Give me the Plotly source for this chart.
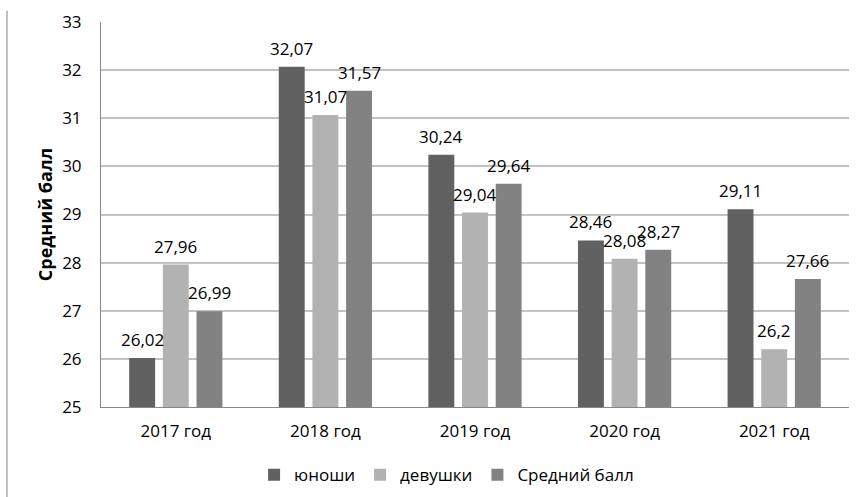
import plotly.graph_objects as go

categories = ["2017 год", "2018 год", "2019 год", "2020 год", "2021 год"]
boys = [26.02, 32.07, 30.24, 28.46, 29.11]
girls = [27.96, 31.07, 29.04, 28.08, 26.2]
average = [26.99, 31.57, 29.64, 28.27, 27.66]
series_names = ["юноши", "девушки", "Средний балл"]
y_ticks = [25, 26, 27, 28, 29, 30, 31, 32, 33]

colors = ["#616161", "#b2b2b2", "#828282"]
FONT = "Open Sans"

W, H = 861, 497
ML, MR, MT, MB = 101, 12, 22, 90
BARGAP, GROUPGAP = 0.325, 0.23


def fmt(v):
    s = ("%.2f" % v).rstrip("0").rstrip(".")
    return s.replace(".", ",")


fig = go.Figure()
all_series = [boys, girls, average]
for name, vals, col in zip(series_names, all_series, colors):
    fig.add_trace(go.Bar(
        x=categories, y=vals, name=name,
        marker=dict(color=col, line=dict(width=0)),
        hovertemplate="%{x}: %{y}<extra>" + name + "</extra>",
    ))

# data labels above each bar (offset by group slot, derived from layout)
cat_px = (W - ML - MR) / len(categories)
slot_px = cat_px * (1 - BARGAP) / len(all_series)
annotations = []
for i, vals in enumerate(all_series):
    shift = (i - (len(all_series) - 1) / 2) * slot_px
    for c, v in zip(categories, vals):
        annotations.append(dict(
            x=c, y=v, xref="x", yref="y", text=fmt(v), showarrow=False,
            xanchor="center", yanchor="bottom", xshift=shift, yshift=5,
            font=dict(family=FONT, size=17, color="#000000"),
        ))

fig.update_layout(
    width=W, height=H,
    margin=dict(l=ML, r=MR, t=MT, b=MB, autoexpand=False),
    paper_bgcolor="white", plot_bgcolor="white",
    barmode="group", bargap=BARGAP, bargroupgap=GROUPGAP,
    font=dict(family=FONT, size=17, color="#000000"),
    showlegend=True,
    legend=dict(orientation="h", x=0.462, xanchor="center", y=-0.177, yanchor="middle",
                font=dict(family=FONT, size=17), itemwidth=30, tracegroupgap=0,
                bgcolor="rgba(0,0,0,0)"),
    xaxis=dict(showline=True, linecolor="#878787", linewidth=1, ticks="",
               ticklabelstandoff=9,
               tickfont=dict(family=FONT, size=17), showgrid=False, automargin=False),
    yaxis=dict(range=[25, 33], tickvals=y_ticks, ticktext=[str(t) for t in y_ticks],
               showline=True, linecolor="#878787", linewidth=1,
               showgrid=True, gridcolor="#c2c2c2", gridwidth=2, ticks="",
               ticklabelstandoff=15, automargin=False,
               tickfont=dict(family=FONT, size=17), zeroline=False,
               title=dict(text="<b>Средний балл</b>", font=dict(family=FONT, size=18), standoff=4)),
    annotations=annotations,
    shapes=[dict(type="line", xref="paper", yref="paper", x0=-0.1257, x1=-0.1257,
                 y0=1.029, y1=-0.234, line=dict(color="#c0c0c0", width=2))],
)

fig.write_html("out.html", config={"displayModeBar": False},
               post_script="document.body.style.margin='0';document.body.style.overflow='hidden';")
